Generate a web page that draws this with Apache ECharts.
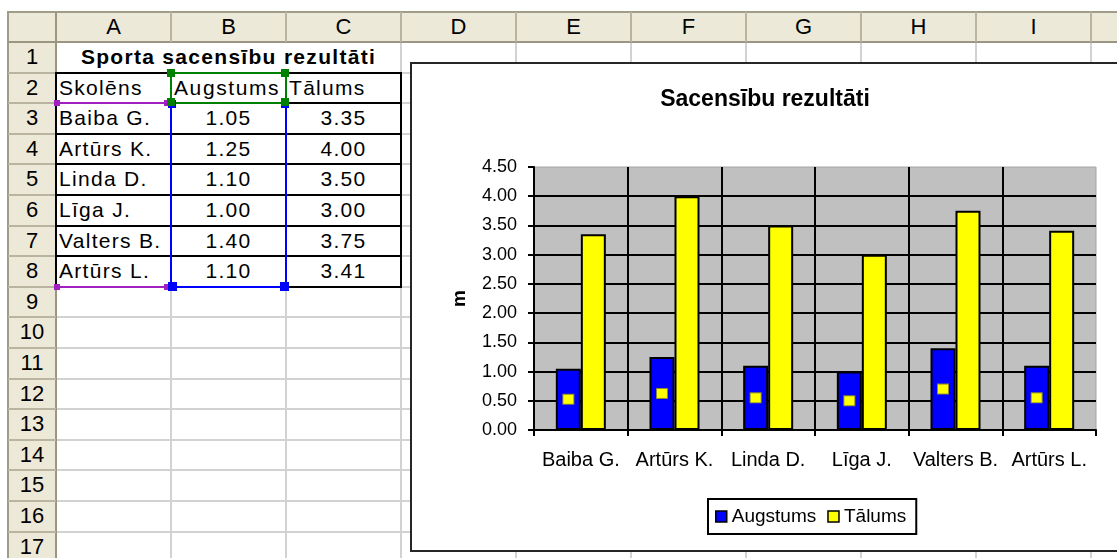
<!DOCTYPE html>
<html><head><meta charset="utf-8">
<script src="https://cdn.jsdelivr.net/npm/echarts@6/dist/echarts.min.js"></script>
<style>
html,body{margin:0;padding:0;width:1117px;height:558px;overflow:hidden;background:#fff;font-family:Arial,"Liberation Sans",sans-serif;}
#sheet{position:absolute;left:0;top:0;width:1117px;height:558px;overflow:hidden;}
.e{position:absolute;box-sizing:border-box;}
.t{position:absolute;box-sizing:border-box;font-size:21px;letter-spacing:1.3px;white-space:nowrap;color:#000;overflow:visible;}
#box{position:absolute;left:410px;top:62px;width:800px;height:490px;border:2px solid #262626;background:#fff;box-sizing:border-box;}
#chart{position:absolute;left:0;top:0;width:1117px;height:558px;}
</style></head>
<body>
<div id="sheet"></div>
<div id="box"></div>
<div id="chart"></div>
<script>
// ---- data ----
const names = ["Baiba G.", "Artūrs K.", "Linda D.", "Līga J.", "Valters B.", "Artūrs L."];
const augstums = [1.05, 1.25, 1.10, 1.00, 1.40, 1.10];
const talums = [3.35, 4.00, 3.50, 3.00, 3.75, 3.41];
const headers = ["Skolēns", "Augstums", "Tālums"];
const sheetTitle = "Sporta sacensību rezultāti";
const chartTitle = "Sacensību rezultāti";
const axisName = "m";
const colLetters = ["A", "B", "C", "D", "E", "F", "G", "H", "I", "J"];
const rowNumbers = [1, 2, 3, 4, 5, 6, 7, 8, 9, 10, 11, 12, 13, 14, 15, 16, 17];

// ---- spreadsheet layout ----
const sheet = document.getElementById('sheet');
const colX = [56, 171, 286, 401, 516, 631, 746, 861, 976, 1091, 1206];
const rowH = 30.6;
const rt = n => 42 + (n - 1) * rowH;
function box(l, t, w, h, bg) {
  const d = document.createElement('div');
  d.className = 'e';
  d.style.cssText = `left:${l}px;top:${t}px;width:${w}px;height:${h}px;background:${bg};`;
  sheet.appendChild(d); return d;
}
function txt(l, t, w, h, s, align, extra) {
  const d = document.createElement('div');
  d.className = 't';
  d.style.cssText = `left:${l}px;top:${t}px;width:${w}px;height:${h}px;line-height:${h}px;text-align:${align};` + (extra || '');
  d.textContent = s;
  sheet.appendChild(d); return d;
}
// cell gridlines
for (const x of colX) box(x - 1, 42, 2, 520, '#d2d2d2');
for (let n = 1; n <= 18; n++) box(56, rt(n) - 1, 1100, 2, '#d2d2d2');
// header row
box(8, 12, 1109, 30, '#ece9d8');
box(8, 12, 48, 546, '#ece9d8');
box(8, 11, 1109, 2, '#a09c88');
box(7, 11, 2, 547, '#a09c88');
box(8, 41, 1109, 2, '#9a9682');
box(55, 12, 2, 546, '#9a9682');
for (const x of colX.slice(1)) box(x - 1, 12, 2, 30, '#b8b4a0');
for (let n = 2; n <= 18; n++) box(8, rt(n) - 1, 48, 2, '#b8b4a0');
colLetters.forEach((c, i) => txt(colX[i], 12, colX[i + 1] - colX[i], 30, c, 'center', 'font-size:22px;letter-spacing:0;'));
rowNumbers.forEach(n => txt(8, rt(n), 48, rowH, String(n), 'center', 'font-size:22px;letter-spacing:0;'));
// merged title row (A1:C1)
box(57, rt(1) + 1, 343, rowH - 2, '#fff');
txt(56, rt(1), 345, rowH, sheetTitle, 'center', 'font-weight:bold;');
// table content
headers.forEach((h, i) => txt(colX[i] + 3, rt(2), 115, rowH, h, 'left', i === 1 ? 'letter-spacing:1.6px;' : ''));
names.forEach((nm, r) => {
  txt(colX[0] + 3, rt(3 + r), 115, rowH, nm, 'left');
  txt(colX[1], rt(3 + r), 115, rowH, augstums[r].toFixed(2), 'center');
  txt(colX[2], rt(3 + r), 115, rowH, talums[r].toFixed(2), 'center');
});
// black table borders A2:C8
for (let n = 2; n <= 9; n++) box(55, rt(n) - 1, 347, 2, '#000');
for (let i = 0; i < 4; i++) box(colX[i] - 1, rt(2) - 1, 2, rt(9) - rt(2) + 2, '#000');
// chart source range highlights
const green = '#008000', blue = '#0000ff', purple = '#a020c0';
box(56, rt(3) - 1, 115, 2, purple);
box(56, rt(9) - 1, 115, 2, purple);
box(170, rt(3) - 1, 117, 2, blue);
box(170, rt(9) - 1, 117, 2, blue);
box(170, rt(3), 2, rt(9) - rt(3), blue);
box(285, rt(3), 2, rt(9) - rt(3), blue);
box(170, rt(2) - 1, 117, 2, green);
box(170, rt(3) - 1, 117, 2, green);
box(170, rt(2), 2, rowH, green);
box(285, rt(2), 2, rowH, green);
function handle(x, y, s, c) { box(x - s / 2, y - s / 2, s, s, c); }
handle(57, rt(3), 6, purple); handle(167, rt(3), 6, purple);
handle(57, rt(9), 6, purple); handle(167, rt(9), 6, purple);
handle(172, rt(3) + 1, 8, blue); handle(285, rt(3) + 1, 8, blue);
handle(172, rt(9), 9, blue); handle(284, rt(9), 9, blue);
handle(171, rt(2), 8, green); handle(285, rt(2), 8, green);
handle(171, rt(3) - 1, 8, green); handle(285, rt(3) - 1, 8, green);

// ---- chart ----
const chart = echarts.init(document.getElementById('chart'), null, { renderer: 'canvas' });
const font = 'Arial, "Liberation Sans", sans-serif';
chart.setOption({
  animation: false,
  backgroundColor: 'transparent',
  title: {
    text: chartTitle, left: 765, top: 100, textAlign: 'center', textVerticalAlign: 'middle', padding: 0,
    textStyle: { fontFamily: font, fontSize: 23, fontWeight: 'bold', color: '#000' }
  },
  legend: {
    data: ['Augstums', 'Tālums'], left: 708, top: 499, padding: [8, 10, 8, 7],
    itemWidth: 11, itemHeight: 11, itemGap: 11, icon: 'rect',
    itemStyle: { borderColor: '#000', borderWidth: 1.5 },
    borderColor: '#000', borderWidth: 2, backgroundColor: '#fff',
    textStyle: { fontFamily: font, fontSize: 19, color: '#000' }
  },
  grid: {
    left: 534, top: 167, right: 21, bottom: 128, containLabel: false,
    show: true, backgroundColor: '#c0c0c0', borderColor: '#a4a4a4', borderWidth: 1
  },
  xAxis: {
    type: 'category', data: names,
    axisLine: { lineStyle: { color: '#000', width: 2 } },
    axisTick: { show: true, length: 6, lineStyle: { color: '#000', width: 2 } },
    splitLine: { show: true, showMaxLine: false, lineStyle: { color: '#000', width: 2 } },
    axisLabel: { interval: 0, margin: 20, fontFamily: font, fontSize: 20, color: '#000' }
  },
  yAxis: {
    type: 'value', min: 0, max: 4.5, interval: 0.5,
    name: axisName, nameLocation: 'middle', nameRotate: 90, nameGap: 65,
    nameTextStyle: { fontFamily: font, fontSize: 19, fontWeight: 'bold', color: '#000' },
    axisLine: { show: true, lineStyle: { color: '#000', width: 2 } },
    axisTick: { show: true, length: 6, lineStyle: { color: '#000', width: 2 } },
    splitLine: { show: true, showMaxLine: false, lineStyle: { color: '#000', width: 2 } },
    axisLabel: { margin: 17, fontFamily: font, fontSize: 18, color: '#000', formatter: v => v.toFixed(2) }
  },
  series: [
    {
      name: 'Augstums', type: 'bar', data: augstums, barWidth: 25, barGap: '0%',
      itemStyle: { color: '#0000ff', borderColor: '#000', borderWidth: 2 },
      label: {
        show: true, position: 'inside', formatter: '{k| }',
        rich: { k: { width: 10, height: 9, backgroundColor: '#ffff00', borderColor: '#8a8a30', borderWidth: 1, fontSize: 1 } }
      }
    },
    {
      name: 'Tālums', type: 'bar', data: talums, barWidth: 25, barGap: '0%',
      itemStyle: { color: '#ffff00', borderColor: '#000', borderWidth: 2 }
    }
  ]
});
</script>
</body></html>
